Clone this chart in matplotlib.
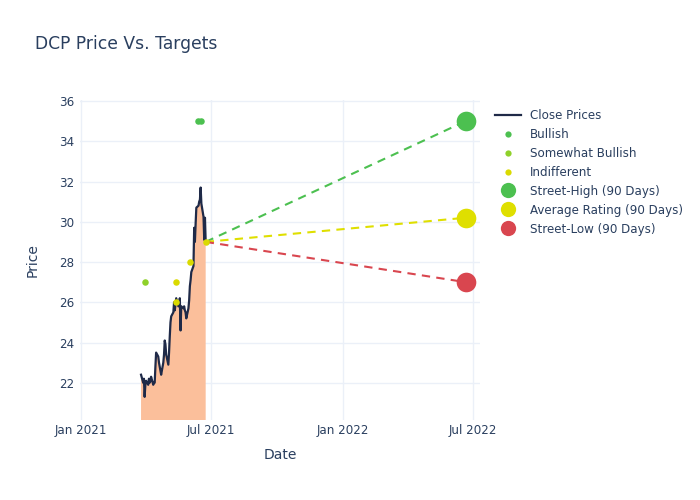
import numpy as np
import pandas as pd
import matplotlib
matplotlib.use("Agg")
import matplotlib.pyplot as plt
import matplotlib.dates as mdates
from matplotlib.lines import Line2D

# ---------------------------------------------------------------------------
# Data
# ---------------------------------------------------------------------------
start_date = "2021-03-26"
close = [22.4, 22.0, 22.2, 21.3, 21.9, 22.1, 21.9, 22.2, 22.0, 22.1,
         22.3, 21.9, 22.0, 22.0, 22.8, 23.5, 23.3, 23.0, 22.8, 22.6,
         22.4, 23.0, 23.4, 24.1, 23.9, 23.4, 22.9, 23.5, 24.3, 25.0,
         25.3, 25.5, 26.0, 25.6, 25.9, 26.2, 25.8, 25.8, 26.2, 24.6,
         25.8, 25.7, 25.8, 25.6, 25.5, 25.2, 25.7, 26.1, 26.8, 27.1,
         27.5, 27.8, 29.7, 29.0, 29.9, 30.7, 30.8, 31.0, 31.1, 31.7,
         30.9, 30.25, 29.1, 30.2, 29.0]

bullish_dates = ["2021-06-14", "2021-06-17"]
bullish_prices = [35, 35]
somewhat_dates = ["2021-04-01"]
somewhat_prices = [27]
indiff_dates = ["2021-05-13", "2021-05-13", "2021-06-02", "2021-06-24"]
indiff_prices = [27, 26, 28, 29]

target_date = "2022-06-21"
target_names = ["Street-High (90 Days)", "Average Rating (90 Days)", "Street-Low (90 Days)"]
target_values = [35.0, 30.2, 27.0]
target_colors = ["#4cc050", "#dfdf00", "#d9464f"]

# ---------------------------------------------------------------------------
dates = pd.bdate_range(start_date, periods=len(close))
last_date, last_close = dates[-1], close[-1]
target_date = pd.Timestamp(target_date)

text_col = "#2a3f5f"
grid_col = "#ebf0f8"

fig = plt.figure(figsize=(7, 5), dpi=100)
ax = fig.add_axes([80 / 700, 80 / 500, 400 / 700, 320 / 500])

ax.fill_between(dates, close, 0, color="#fbbf9b", lw=0, zorder=1)
ax.plot(dates, close, color="#1f2a48", lw=1.6, zorder=3)

for val, col in zip(target_values, target_colors):
    ax.plot([last_date, target_date], [last_close, val], color=col,
            lw=1.5, ls=(0, (4, 3)), zorder=2)
    ax.scatter([target_date], [val], s=200, color=col, lw=0, zorder=4)

ax.scatter(pd.to_datetime(bullish_dates), bullish_prices, s=22, color="#4cc050", lw=0, zorder=5)
ax.scatter(pd.to_datetime(somewhat_dates), somewhat_prices, s=22, color="#8fd12a", lw=0, zorder=5)
ax.scatter(pd.to_datetime(indiff_dates), indiff_prices, s=22, color="#dada00", lw=0, zorder=5)

ax.set_xlim(pd.Timestamp("2020-12-31"), pd.Timestamp("2022-07-11"))
ax.set_ylim(20.15, 36.05)
ax.set_yticks([22, 24, 26, 28, 30, 32, 34, 36])
ax.xaxis.set_major_locator(mdates.MonthLocator(bymonth=[1, 7]))
ax.xaxis.set_major_formatter(mdates.DateFormatter("%b %Y"))

ax.grid(True, color=grid_col, lw=1, zorder=0)
ax.set_axisbelow(True)
for s in ax.spines.values():
    s.set_visible(False)
ax.tick_params(length=0, colors=text_col, labelsize=8.6, pad=4)
ax.tick_params(axis="x", pad=3)

ax.set_xlabel("Date", color=text_col, fontsize=10, labelpad=8)
ax.set_ylabel("Price", color=text_col, fontsize=10, labelpad=14)
fig.text(35 / 700, 1 - 44 / 500, "DCP Price Vs. Targets", color=text_col,
         fontsize=12.3, va="center", ha="left")

handles = [
    Line2D([], [], color="#1f2a48", lw=1.6),
    Line2D([], [], ls="", marker="o", ms=4.5, mew=0, color="#4cc050"),
    Line2D([], [], ls="", marker="o", ms=4.5, mew=0, color="#8fd12a"),
    Line2D([], [], ls="", marker="o", ms=4.5, mew=0, color="#dada00"),
] + [Line2D([], [], ls="", marker="o", ms=11, mew=0, color=c) for c in target_colors]
labels = ["Close Prices", "Bullish", "Somewhat Bullish", "Indifferent"] + target_names
leg = fig.legend(handles, labels, loc="upper left", bbox_to_anchor=(490 / 700, 1 - 104 / 500),
                 frameon=False, fontsize=8.6, labelspacing=0.5, handlelength=2.2,
                 handletextpad=0.75, borderaxespad=0)
for t in leg.get_texts():
    t.set_color(text_col)

fig.savefig("out.png", dpi=100)
